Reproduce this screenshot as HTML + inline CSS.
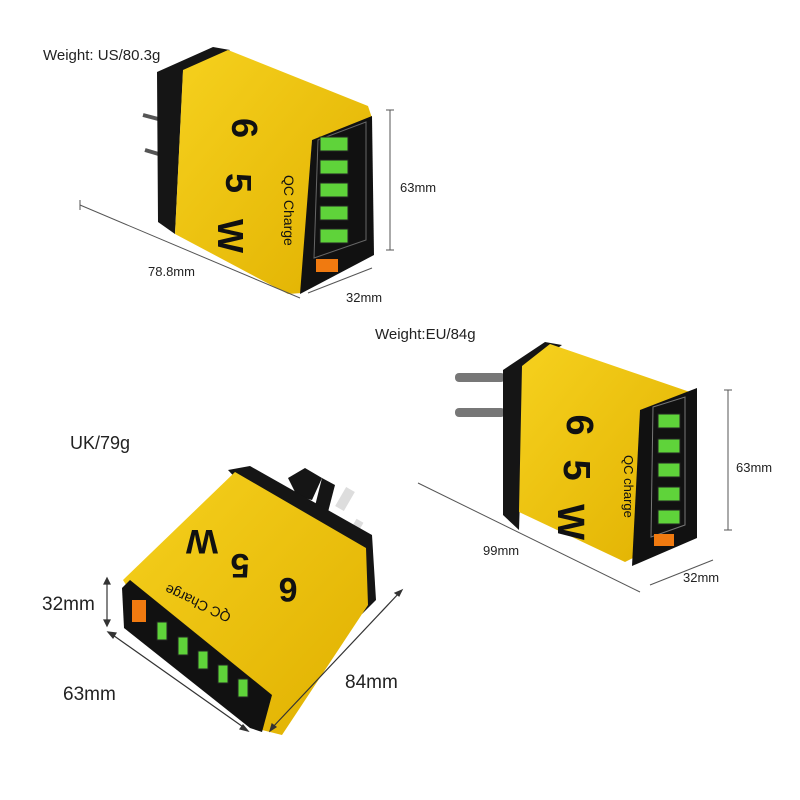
<!DOCTYPE html>
<html><head><meta charset="utf-8"><style>
html,body{margin:0;padding:0;background:#fff;width:800px;height:800px;overflow:hidden}
svg text{font-family:"Liberation Sans",sans-serif}
</style></head><body>
<svg width="800" height="800" viewBox="0 0 800 800" xmlns="http://www.w3.org/2000/svg">
<defs>
<linearGradient id="yl" x1="0" y1="0" x2="1" y2="1"><stop offset="0" stop-color="#f6d11e"/><stop offset="1" stop-color="#e0b000"/></linearGradient>
</defs>
<text x="43" y="60" font-size="15" fill="#222">Weight: US/80.3g</text>
<text x="375" y="339" font-size="15" fill="#222">Weight:EU/84g</text>
<text x="70" y="449" font-size="18" fill="#222">UK/79g</text>

<!-- ===== US charger ===== -->
<line x1="143" y1="115" x2="162" y2="120" stroke="#555" stroke-width="4"/>
<line x1="145" y1="150" x2="162" y2="155" stroke="#555" stroke-width="4"/>
<polygon points="157,72 213,47 230,50 183,72 175,234 158,222" fill="#151515"/>
<polygon points="183,70 228,50 368,106 372,118 312,140 302,293 288,294 175,234" fill="url(#yl)"/>
<polygon points="312,140 372,116 374,255 300,294" fill="#111"/>
<polygon points="318,140 366,122 366,240 314,258" fill="none" stroke="#666" stroke-width="1"/>
<g fill="#5fd33a" stroke="#222" stroke-width="1">
<rect x="320" y="137" width="28" height="14"/>
<rect x="320" y="160" width="28" height="14"/>
<rect x="320" y="183" width="28" height="14"/>
<rect x="320" y="206" width="28" height="14"/>
<rect x="320" y="229" width="28" height="14"/>
</g>
<rect x="316" y="259" width="22" height="13" fill="#f07a10"/>
<g font-weight="bold" fill="#111" font-size="36">
<text transform="translate(232,128) rotate(90)" text-anchor="middle">6</text>
<text transform="translate(226,183) rotate(90)" text-anchor="middle">5</text>
<text transform="translate(218,236) rotate(90)" text-anchor="middle">W</text>
</g>
<text transform="translate(284,175) rotate(90)" font-size="14" fill="#111">QC Charge</text>
<g stroke="#555" stroke-width="1" fill="none">
<line x1="80" y1="205" x2="300" y2="298"/><line x1="80" y1="200" x2="80" y2="210"/>
<line x1="390" y1="110" x2="390" y2="250"/><line x1="386" y1="110" x2="394" y2="110"/><line x1="386" y1="250" x2="394" y2="250"/>
<line x1="308" y1="293" x2="372" y2="268"/>
</g>
<text x="148" y="276" font-size="13" fill="#222">78.8mm</text>
<text x="400" y="192" font-size="13" fill="#222">63mm</text>
<text x="346" y="302" font-size="13" fill="#222">32mm</text>

<!-- ===== EU charger ===== -->
<rect x="455" y="373" width="50" height="9" rx="4" fill="#777"/>
<rect x="455" y="408" width="50" height="9" rx="4" fill="#777"/>
<polygon points="503,370 545,342 562,345 524,372 519,530 503,515" fill="#151515"/>
<polygon points="522,366 550,344 690,392 693,402 642,420 637,556 625,562 519,512" fill="url(#yl)"/>
<polygon points="640,410 697,388 697,538 632,566" fill="#111"/>
<polygon points="653,407 685,397 685,525 651,537" fill="none" stroke="#777" stroke-width="1"/>
<g fill="#5fd33a" stroke="#222" stroke-width="1">
<rect x="658" y="414" width="22" height="14"/>
<rect x="658" y="439" width="22" height="14"/>
<rect x="658" y="463" width="22" height="14"/>
<rect x="658" y="487" width="22" height="14"/>
<rect x="658" y="510" width="22" height="14"/>
</g>
<rect x="654" y="534" width="20" height="12" fill="#f07a10"/>
<g font-weight="bold" fill="#111" font-size="38">
<text transform="translate(567,425) rotate(90)" text-anchor="middle">6</text>
<text transform="translate(564,470) rotate(90)" text-anchor="middle">5</text>
<text transform="translate(558,522) rotate(90)" text-anchor="middle">W</text>
</g>
<text transform="translate(624,455) rotate(90)" font-size="13" fill="#111">QC charge</text>
<g stroke="#555" stroke-width="1" fill="none">
<line x1="418" y1="483" x2="640" y2="592"/>
<line x1="728" y1="390" x2="728" y2="530"/><line x1="724" y1="390" x2="732" y2="390"/><line x1="724" y1="530" x2="732" y2="530"/>
<line x1="650" y1="585" x2="713" y2="560"/>
</g>
<text x="483" y="555" font-size="13" fill="#222">99mm</text>
<text x="736" y="472" font-size="13" fill="#222">63mm</text>
<text x="683" y="582" font-size="13" fill="#222">32mm</text>

<!-- ===== UK charger ===== -->
<polygon points="288,478 305,468 322,478 312,500 297,496" fill="#151515"/>
<polygon points="322,478 335,485 328,512 315,506" fill="#151515"/>
<rect x="340" y="488" width="10" height="22" fill="#ddd" transform="rotate(30 345 499)"/>
<rect x="353" y="520" width="8" height="12" fill="#ddd" transform="rotate(30 357 526)"/>
<polygon points="228,470 250,466 372,535 376,600 362,614" fill="#151515"/>
<polygon points="123,580 235,472 366,548 368,605 282,735 262,730 258,700 128,588" fill="url(#yl)"/>
<polygon points="122,588 130,580 272,695 262,732 250,728 124,628" fill="#111"/>
<rect x="132" y="600" width="14" height="22" fill="#f07a10"/>
<g fill="#5fd33a" stroke="#222" stroke-width="1">
<rect x="157" y="622" width="10" height="18"/>
<rect x="178" y="637" width="10" height="18"/>
<rect x="198" y="651" width="10" height="18"/>
<rect x="218" y="665" width="10" height="18"/>
<rect x="238" y="679" width="10" height="18"/>
</g>
<g font-weight="bold" fill="#111" font-size="34">
<text transform="translate(202,530) rotate(180)" text-anchor="middle">W</text>
<text transform="translate(240,554) rotate(180)" text-anchor="middle">5</text>
<text transform="translate(288,578) rotate(180)" text-anchor="middle">6</text>
</g>
<text transform="translate(232,614) rotate(205)" font-size="14" fill="#111">QC Charge</text>
<g stroke="#333" stroke-width="1.2" fill="#333">
<line x1="107" y1="580" x2="107" y2="624"/>
<polygon points="104,584 107,578 110,584"/><polygon points="104,620 107,626 110,620"/>
<line x1="110" y1="633" x2="246" y2="729"/>
<polygon points="108,632 116,633 113,638"/><polygon points="248,731 240,729 243,725"/>
<line x1="272" y1="728" x2="400" y2="592"/>
<polygon points="270,731 272,724 276,727"/><polygon points="402,590 395,593 399,596"/>
</g>
<text x="42" y="610" font-size="19" fill="#222">32mm</text>
<text x="63" y="700" font-size="19" fill="#222">63mm</text>
<text x="345" y="688" font-size="19" fill="#222">84mm</text>
</svg>
</body></html>
